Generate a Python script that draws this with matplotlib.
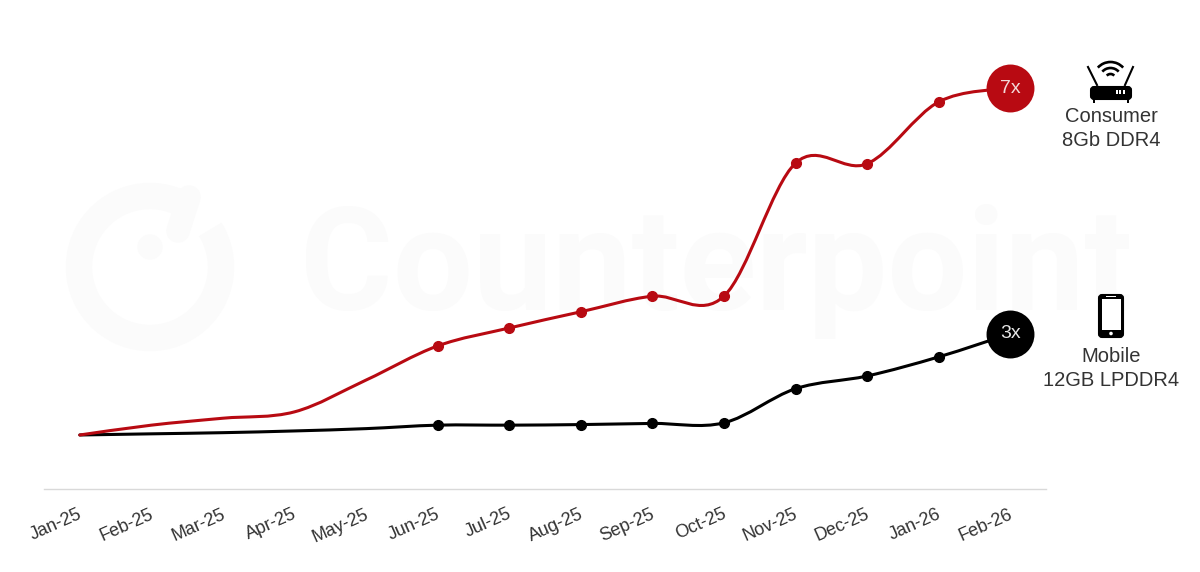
import matplotlib
matplotlib.use('Agg')
import matplotlib.pyplot as plt
from matplotlib.path import Path
from matplotlib.patches import PathPatch, Arc, Circle, FancyBboxPatch, Rectangle
from matplotlib.transforms import ScaledTranslation

plt.rcParams['font.family'] = ['Liberation Sans', 'DejaVu Sans']

# Datos
months = ['Jan-25', 'Feb-25', 'Mar-25', 'Apr-25', 'May-25', 'Jun-25', 'Jul-25',
          'Aug-25', 'Sep-25', 'Oct-25', 'Nov-25', 'Dec-25', 'Jan-26', 'Feb-26']
consumer = [1.0, 1.17, 1.29, 1.40, 1.95, 2.54, 2.85, 3.13, 3.40, 3.40, 5.70, 5.69, 6.76, 7.0]
mobile = [1.0, 1.02, 1.04, 1.07, 1.11, 1.17, 1.17, 1.18, 1.20, 1.21, 1.80, 2.02, 2.35, 2.75]
consumer_label = ['Consumer', '8Gb DDR4']
mobile_label = ['Mobile', '12GB LPDDR4']

RED = '#B80A12'
BLACK = '#000000'
TEXT = '#333333'
MARK = '#FBFBFB'


def smooth_path(xs, ys):
    # curva suave por tramos, como la linea suavizada de Excel
    verts = [(xs[0], ys[0])]
    codes = [Path.MOVETO]
    n = len(xs)
    for i in range(n - 1):
        x0, y0 = xs[max(i - 1, 0)], ys[max(i - 1, 0)]
        x3, y3 = xs[min(i + 2, n - 1)], ys[min(i + 2, n - 1)]
        c1 = (xs[i] + (xs[i + 1] - x0) / 6, ys[i] + (ys[i + 1] - y0) / 6)
        c2 = (xs[i + 1] - (x3 - xs[i]) / 6, ys[i + 1] - (y3 - ys[i]) / 6)
        verts += [c1, c2, (xs[i + 1], ys[i + 1])]
        codes += [Path.CURVE4] * 3
    return Path(verts, codes)


fig = plt.figure(figsize=(12, 5.72), dpi=100, facecolor='white')

# Capa de fondo en pixeles: marca de agua e iconos
bg = fig.add_axes([0, 0, 1, 1], zorder=0)
bg.set_xlim(0, 1200)
bg.set_ylim(572, 0)
bg.axis('off')

bg.add_patch(Arc((150, 267), 142, 142, theta1=-32, theta2=294, lw=19, color=MARK, zorder=0.5))
bg.plot([189, 178], [197, 231], color=MARK, lw=17, solid_capstyle='round', zorder=0.5)
bg.add_patch(Circle((150, 247), 12, color=MARK, zorder=0.5))
bg.text(716, 310, 'Counterpoint', fontsize=102, family='Roboto', weight='bold',
        color=MARK, ha='center', va='baseline', zorder=0.5)

# Router
bg.add_patch(FancyBboxPatch((1091, 87), 40, 12, boxstyle='round,pad=0,rounding_size=3',
                            fc='black', ec='black', lw=1.5))
for fx in [1093, 1127]:
    bg.add_patch(Rectangle((fx, 99), 2, 3.5, fc='black', lw=0))
for dx in [1116.5, 1120, 1123.5]:
    bg.add_patch(Rectangle((dx - 1, 90), 2, 4, fc='white', lw=0))
bg.plot([1088, 1097], [67, 85], color='black', lw=1.5)
bg.plot([1133, 1125], [67, 85], color='black', lw=1.5)
for r in [17, 11, 5]:
    bg.add_patch(Arc((1110.5, 79), 2 * r, 2 * r, theta1=222, theta2=318, color='black', lw=1.9))

# Telefono
bg.add_patch(FancyBboxPatch((1099, 295), 24, 42, boxstyle='round,pad=0,rounding_size=3',
                            fc='black', ec='black', lw=1.5))
bg.add_patch(Rectangle((1102, 299), 18.5, 31, fc='white', lw=0))
bg.add_patch(Rectangle((1106, 296), 10, 1, fc='white', lw=0))
bg.add_patch(Circle((1111, 333.5), 1.8, fc='white', lw=0))

for i, line in enumerate(consumer_label):
    bg.text(1111, 117 + 24 * i, line, fontsize=14.5, color=TEXT, ha='center', va='center')
for i, line in enumerate(mobile_label):
    bg.text(1111, 357 + 24 * i, line, fontsize=14.5, color=TEXT, ha='center', va='center')

# Grafico principal
ax = fig.add_axes([44 / 1200, 1 - 489 / 572, 1002 / 1200, 469 / 572], zorder=1)
ax.patch.set_alpha(0)
ax.set_xlim(-0.5, 13.5)
ax.set_ylim(0.066, 8.176)
x = list(range(len(months)))

ax.add_patch(PathPatch(smooth_path(x, mobile), fc='none', ec=BLACK, lw=2.2, capstyle='round'))
ax.add_patch(PathPatch(smooth_path(x, consumer), fc='none', ec=RED, lw=2.2, capstyle='round'))

ax.plot(x[5:13], mobile[5:13], 'o', color=BLACK, ms=7)
ax.plot(x[5:13], consumer[5:13], 'o', color=RED, ms=7)
ax.plot(x[13], mobile[13], 'o', color=BLACK, ms=34.5, mew=0)
ax.plot(x[13], consumer[13], 'o', color=RED, ms=34.5, mew=0)
ax.text(x[13], mobile[13], '3x', color='#E6E6E6', fontsize=14, ha='center', va='center')
ax.text(x[13], consumer[13], '7x', color='#F2D9D9', fontsize=14, ha='center', va='center')

for side in ['top', 'right', 'left']:
    ax.spines[side].set_visible(False)
ax.spines['bottom'].set_color('#D9D9D9')
ax.spines['bottom'].set_linewidth(1)
ax.set_yticks([])
ax.set_xticks(x)
ax.set_xticklabels(months, rotation=24, ha='right', rotation_mode='anchor',
                   fontsize=13, color=TEXT)
ax.tick_params(axis='x', length=0, pad=12)
shift = ScaledTranslation(-2 / 100, 0, fig.dpi_scale_trans)
for lbl in ax.get_xticklabels():
    lbl.set_transform(lbl.get_transform() + shift)

fig.savefig('out.png', dpi=100)
